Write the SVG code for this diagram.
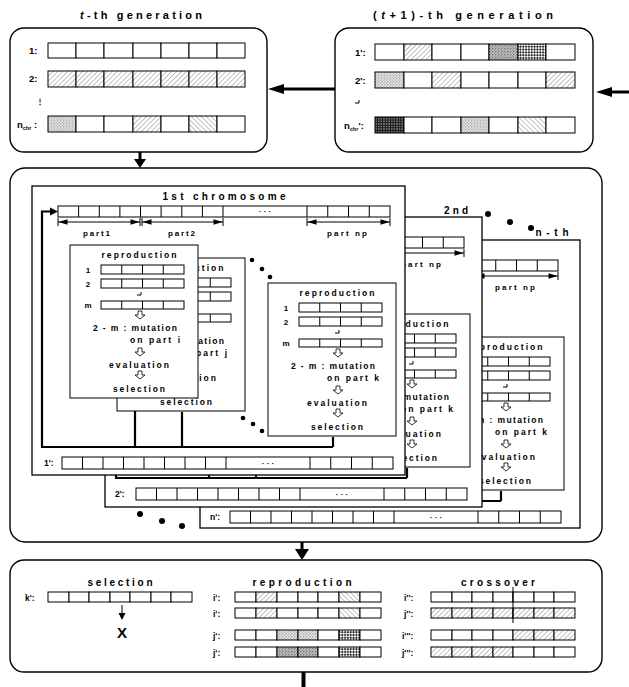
<svg xmlns="http://www.w3.org/2000/svg" width="629" height="687" viewBox="0 0 629 687">
<style>
text{font-family:"Liberation Sans",Arial,sans-serif;font-weight:bold;fill:#000}
.t{font-size:11px;text-anchor:middle}
.h{font-size:10px;text-anchor:middle}
.b{font-size:8.5px;text-anchor:middle}
.s{font-size:8px;text-anchor:middle}
.l{font-size:8.5px}
.m{font-size:9.5px}
.sub{font-size:5.5px}
.frame{fill:#fff;stroke:#000;stroke-width:1.4}
.sheet{fill:#fff;stroke:#000;stroke-width:1.3}
.ln{fill:none;stroke:#000;stroke-width:1}
.thick{fill:none;stroke:#000;stroke-width:2.2}
.ha{fill:#fff;stroke:#000;stroke-width:0.8}
.dot{fill:#000}
.ah{fill:#000;stroke:none}
</style>
<defs>
<pattern id="hR" width="3.5" height="3.5" patternUnits="userSpaceOnUse" patternTransform="rotate(45)"><rect width="3.5" height="3.5" fill="#fff"/><line x1="0" y1="0" x2="0" y2="3.5" stroke="#666" stroke-width="0.8"/></pattern>
<pattern id="hL" width="3.5" height="3.5" patternUnits="userSpaceOnUse" patternTransform="rotate(-45)"><rect width="3.5" height="3.5" fill="#fff"/><line x1="0" y1="0" x2="0" y2="3.5" stroke="#666" stroke-width="0.8"/></pattern>
<pattern id="st" width="3" height="3" patternUnits="userSpaceOnUse"><rect width="3" height="3" fill="#e2e2e2"/><circle cx="0.8" cy="0.8" r="0.6" fill="#777"/><circle cx="2.3" cy="2.2" r="0.5" fill="#999"/></pattern>
<pattern id="sd" width="3" height="3" patternUnits="userSpaceOnUse"><rect width="3" height="3" fill="#c4c4c4"/><circle cx="0.8" cy="0.8" r="0.7" fill="#555"/><circle cx="2.3" cy="2.2" r="0.6" fill="#777"/></pattern>
<pattern id="ck" width="4" height="4" patternUnits="userSpaceOnUse" patternTransform="rotate(45)"><rect width="4" height="4" fill="#fff"/><path d="M0,0h2v2h-2zM2,2h2v2h-2z" fill="#333"/></pattern>
<pattern id="gr" width="2.6" height="2.6" patternUnits="userSpaceOnUse"><rect width="2.6" height="2.6" fill="#777"/><path d="M0,0.5H2.6M0.5,0V2.6" stroke="#111" stroke-width="0.9"/></pattern>

<g id="rbox">
<rect width="128" height="153" fill="#fff" stroke="#000"/>
<text class="b" x="69" y="13" textLength="75">reproduction</text>
<text class="s" x="18" y="28">1</text>
<text class="s" x="18" y="42">2</text>
<text class="s" x="18" y="63">m</text>
<g fill="#fff" stroke="#000">
<rect x="31" y="20" width="83" height="9"/>
<rect x="31" y="34" width="83" height="9"/>
<rect x="31" y="56" width="83" height="8"/>
</g>
<path class="ln" d="M51.75,20v9M72.5,20v9M93.25,20v9M51.75,34v9M72.5,34v9M93.25,34v9M51.75,56v8M72.5,56v8M93.25,56v8M67,50h4v-3"/>
<path class="ha" d="M68,66h4v4h3l-5,4l-5,-4h3z"/>
<text class="b" x="65" y="86" textLength="84">2 - m : mutation</text>
<path class="ha" d="M68,103h4v4h3l-5,4l-5,-4h3z"/>
<text class="b" x="69" y="123" textLength="60">evaluation</text>
<path class="ha" d="M68,126h4v4h3l-5,4l-5,-4h3z"/>
<text class="b" x="69" y="147" textLength="52">selection</text>
</g>

<g id="body">
<rect x="58" y="206" width="332" height="11" fill="#fff" stroke="#000"/>
<path class="ln" d="M78.6,206v11M99.3,206v11M119.9,206v11M140.5,206v11M161.1,206v11M181.8,206v11M202.4,206v11M223,206v11M307,206v11M327.75,206v11M348.5,206v11M369.25,206v11"/>
<text class="s" x="265" y="214">· · ·</text>
<path class="ln" d="M58,222H140M142,222H223M307,222H390M58,218v8M140,218v8M142,218v8M223,218v8M307,218v8M390,218v8"/>
<path class="ah" d="M58.5,222l9,-2.7v5.4zM139.5,222l-9,-2.7v5.4zM142.5,222l9,-2.7v5.4zM222.5,222l-9,-2.7v5.4zM307.5,222l9,-2.7v5.4zM389.5,222l-9,-2.7v5.4z"/>
<text class="s" x="96.5" y="236" textLength="27">part1</text>
<text class="s" x="181.5" y="236" textLength="27">part2</text>
<text class="s" x="347" y="236" textLength="40">part np</text>
<path class="thick" d="M135,398V447M182,412V447M333,437V447M333,447H42V211.5H52"/>
<polygon points="50,207.5 58,211.5 50,215.5"/>
<use href="#rbox" x="117" y="258"/>
<text class="b" x="202" y="356" textLength="50">on part j</text>
<use href="#rbox" x="70" y="245"/>
<text class="b" x="155" y="343" textLength="50">on part i</text>
<circle class="dot" cx="252" cy="260" r="2.3"/>
<circle class="dot" cx="262" cy="269" r="2.3"/>
<circle class="dot" cx="270" cy="277" r="2.3"/>
<circle class="dot" cx="243" cy="418" r="2.3"/>
<circle class="dot" cx="253" cy="424" r="2.3"/>
<circle class="dot" cx="262" cy="431" r="2.3"/>
<use href="#rbox" x="268" y="283"/>
<text class="b" x="353" y="381" textLength="52">on part k</text>
<rect x="62" y="457" width="331" height="12" fill="#fff" stroke="#000"/>
<path class="ln" d="M82.5,457v12M103,457v12M123.5,457v12M144,457v12M164.5,457v12M185,457v12M205.5,457v12M226,457v12M310,457v12M330.75,457v12M351.5,457v12M372.25,457v12"/>
<text class="s" x="268" y="466">· · ·</text>
</g>
</defs>

<!-- t-th generation -->
<g id="gen-t">
<text class="t" x="141" y="19" textLength="122"><tspan font-style="italic">t</tspan>-th generation</text>
<rect class="frame" x="10" y="28" width="257" height="124" rx="14"/>
<text class="m" x="29" y="54">1:</text>
<text class="m" x="29" y="82">2:</text>
<text x="40" y="104" font-size="8" text-anchor="middle" font-family="DejaVu Sans">⋮</text>
<text class="m" x="17" y="128">n<tspan class="sub" dy="1.5">chr</tspan><tspan dy="-1.5"> :</tspan></text>
<g stroke="#000" fill="#fff">
<rect x="48" y="43" width="28" height="15"/><rect x="76" y="43" width="28" height="15"/><rect x="104" y="43" width="29" height="15"/><rect x="133" y="43" width="28" height="15"/><rect x="161" y="43" width="28" height="15"/><rect x="189" y="43" width="28" height="15"/><rect x="217" y="43" width="28" height="15"/>
<rect x="48" y="71" width="28" height="16" fill="url(#hR)"/><rect x="76" y="71" width="28" height="16" fill="url(#hR)"/><rect x="104" y="71" width="29" height="16" fill="url(#hR)"/><rect x="133" y="71" width="28" height="16" fill="url(#hR)"/><rect x="161" y="71" width="28" height="16" fill="url(#hR)"/><rect x="189" y="71" width="28" height="16" fill="url(#hR)"/><rect x="217" y="71" width="28" height="16" fill="url(#hR)"/>
<rect x="48" y="116" width="28" height="16" fill="url(#st)"/><rect x="76" y="116" width="28" height="16"/><rect x="104" y="116" width="29" height="16"/><rect x="133" y="116" width="28" height="16" fill="url(#hR)"/><rect x="161" y="116" width="28" height="16"/><rect x="189" y="116" width="28" height="16" fill="url(#hL)"/><rect x="217" y="116" width="28" height="16"/>
</g>
</g>

<!-- (t+1)-th generation -->
<g id="gen-t1">
<text class="t" x="463" y="19" textLength="180">(<tspan font-style="italic">t</tspan>+1)-th generation</text>
<rect class="frame" x="335" y="28" width="258" height="124" rx="14"/>
<text class="m" x="355" y="56">1':</text>
<text class="m" x="355" y="84">2':</text>
<path class="ln" d="M355,103h4v-3"/>
<text class="m" x="344" y="129">n<tspan class="sub" dy="1.5">chr</tspan><tspan dy="-1.5">':</tspan></text>
<g stroke="#000" fill="#fff">
<rect x="375" y="44" width="29" height="16"/><rect x="404" y="44" width="28" height="16" fill="url(#hR)"/><rect x="432" y="44" width="29" height="16"/><rect x="461" y="44" width="28" height="16"/><rect x="489" y="44" width="29" height="16" fill="url(#sd)"/><rect x="518" y="44" width="28" height="16" fill="url(#ck)"/><rect x="546" y="44" width="29" height="16"/>
<rect x="375" y="72" width="29" height="16" fill="url(#st)"/><rect x="404" y="72" width="28" height="16"/><rect x="432" y="72" width="29" height="16" fill="url(#hR)"/><rect x="461" y="72" width="28" height="16"/><rect x="489" y="72" width="29" height="16"/><rect x="518" y="72" width="28" height="16"/><rect x="546" y="72" width="29" height="16" fill="url(#hR)"/>
<rect x="375" y="117" width="29" height="16" fill="url(#gr)"/><rect x="404" y="117" width="28" height="16"/><rect x="432" y="117" width="29" height="16"/><rect x="461" y="117" width="28" height="16" fill="url(#st)"/><rect x="489" y="117" width="29" height="16"/><rect x="518" y="117" width="28" height="16" fill="url(#hL)"/><rect x="546" y="117" width="29" height="16"/>
</g>
</g>

<!-- chromosome-wise GA -->
<g id="chromosome-ga">
<rect class="frame" x="10" y="168" width="592" height="374" rx="15"/>
<g id="sheet-n">
<rect class="sheet" x="200" y="240" width="380" height="288"/>
<use href="#body" transform="translate(168,54)"/>
<text class="l" x="210" y="520">n':</text>
<text class="h" x="552" y="236" textLength="33">n-th</text>
</g>
<g id="sheet-2">
<rect class="sheet" x="105" y="217" width="377" height="290"/>
<use href="#body" transform="translate(74,31)"/>
<text class="l" x="115" y="497">2':</text>
<text class="h" x="456" y="214" textLength="24">2nd</text>
</g>
<circle class="dot" cx="488" cy="214" r="3"/>
<circle class="dot" cx="510" cy="222" r="3"/>
<circle class="dot" cx="531" cy="228" r="3"/>
<g id="sheet-1">
<rect class="sheet" x="32" y="186" width="373" height="289"/>
<text class="h" x="224" y="200" textLength="123">1st chromosome</text>
<use href="#body"/>
<text class="l" x="44" y="466">1':</text>
</g>
<circle class="dot" cx="140" cy="514" r="3"/>
<circle class="dot" cx="162" cy="521" r="3"/>
<circle class="dot" cx="182" cy="526" r="3"/>
</g>

<!-- operators -->
<g id="operators">
<rect class="frame" x="10" y="560" width="592" height="112" rx="14"/>
<g id="op-selection">
<text class="h" x="120" y="586" textLength="65">selection</text>
<text class="l" x="25" y="601">k':</text>
<g stroke="#000" fill="#fff">
<rect x="48" y="592" width="21" height="10"/><rect x="69" y="592" width="20" height="10"/><rect x="89" y="592" width="21" height="10"/><rect x="110" y="592" width="20" height="10"/><rect x="130" y="592" width="21" height="10"/><rect x="151" y="592" width="20" height="10"/><rect x="171" y="592" width="21" height="10"/>
</g>
<path class="ln" d="M122,605V614"/>
<polygon points="118.5,613 125.5,613 122,620"/>
<text x="122" y="638" font-size="15" text-anchor="middle">X</text>
</g>
<g id="op-reproduction">
<text class="h" x="302" y="586" textLength="99">reproduction</text>
<text class="l" x="213" y="601">i':</text>
<text class="l" x="213" y="617">i':</text>
<text class="l" x="213" y="639">j':</text>
<text class="l" x="213" y="656">j':</text>
<g stroke="#000" fill="#fff">
<rect x="235" y="592" width="21" height="10"/><rect x="256" y="592" width="21" height="10" fill="url(#hR)"/><rect x="277" y="592" width="21" height="10"/><rect x="298" y="592" width="20" height="10"/><rect x="318" y="592" width="21" height="10"/><rect x="339" y="592" width="21" height="10" fill="url(#hL)"/><rect x="360" y="592" width="21" height="10"/>
<rect x="235" y="608" width="21" height="10"/><rect x="256" y="608" width="21" height="10" fill="url(#hR)"/><rect x="277" y="608" width="21" height="10"/><rect x="298" y="608" width="20" height="10"/><rect x="318" y="608" width="21" height="10"/><rect x="339" y="608" width="21" height="10" fill="url(#hL)"/><rect x="360" y="608" width="21" height="10"/>
<rect x="235" y="630" width="21" height="10"/><rect x="256" y="630" width="21" height="10"/><rect x="277" y="630" width="21" height="10" fill="url(#st)"/><rect x="298" y="630" width="20" height="10" fill="url(#st)"/><rect x="318" y="630" width="21" height="10"/><rect x="339" y="630" width="21" height="10" fill="url(#ck)"/><rect x="360" y="630" width="21" height="10"/>
<rect x="235" y="647" width="21" height="10"/><rect x="256" y="647" width="21" height="10"/><rect x="277" y="647" width="21" height="10" fill="url(#sd)"/><rect x="298" y="647" width="20" height="10" fill="url(#sd)"/><rect x="318" y="647" width="21" height="10"/><rect x="339" y="647" width="21" height="10" fill="url(#ck)"/><rect x="360" y="647" width="21" height="10"/>
</g>
</g>
<g id="op-crossover">
<text class="h" x="498" y="586" textLength="74">crossover</text>
<text class="l" x="404" y="601">i'':</text>
<text class="l" x="404" y="617">j'':</text>
<text class="l" x="402" y="639">i''':</text>
<text class="l" x="402" y="656">j''':</text>
<g stroke="#000" fill="#fff">
<rect x="431" y="592" width="21" height="10"/><rect x="452" y="592" width="20" height="10"/><rect x="472" y="592" width="21" height="10"/><rect x="493" y="592" width="20" height="10"/><rect x="513" y="592" width="21" height="10"/><rect x="534" y="592" width="20" height="10"/><rect x="554" y="592" width="21" height="10"/>
<rect x="431" y="608" width="21" height="10" fill="url(#hR)"/><rect x="452" y="608" width="20" height="10" fill="url(#hR)"/><rect x="472" y="608" width="21" height="10" fill="url(#hR)"/><rect x="493" y="608" width="20" height="10" fill="url(#hR)"/><rect x="513" y="608" width="21" height="10" fill="url(#hR)"/><rect x="534" y="608" width="20" height="10" fill="url(#hR)"/><rect x="554" y="608" width="21" height="10" fill="url(#hR)"/>
<rect x="431" y="630" width="21" height="10"/><rect x="452" y="630" width="20" height="10"/><rect x="472" y="630" width="21" height="10"/><rect x="493" y="630" width="20" height="10"/><rect x="513" y="630" width="21" height="10" fill="url(#hR)"/><rect x="534" y="630" width="20" height="10" fill="url(#hR)"/><rect x="554" y="630" width="21" height="10" fill="url(#hR)"/>
<rect x="431" y="647" width="21" height="10" fill="url(#hR)"/><rect x="452" y="647" width="20" height="10" fill="url(#hR)"/><rect x="472" y="647" width="21" height="10" fill="url(#hR)"/><rect x="493" y="647" width="20" height="10" fill="url(#hR)"/><rect x="513" y="647" width="21" height="10"/><rect x="534" y="647" width="20" height="10"/><rect x="554" y="647" width="21" height="10"/>
</g>
<path class="ln" d="M513,587V623"/>
</g>
</g>

<!-- connectors -->
<g id="connectors" fill="#000" stroke="none">
<path d="M335,89H282" stroke="#000" stroke-width="3"/>
<polygon points="268,89 284,84 284,94"/>
<path d="M629,92H610" stroke="#000" stroke-width="3"/>
<polygon points="596,92 612,87 612,97"/>
<path d="M140,152V160" stroke="#000" stroke-width="3"/>
<polygon points="134,159 146,159 140,168"/>
<path d="M302,542V550" stroke="#000" stroke-width="3"/>
<polygon points="295,549 309,549 302,560"/>
<path d="M303.5,672V687" stroke="#000" stroke-width="4"/>
</g>
</svg>
